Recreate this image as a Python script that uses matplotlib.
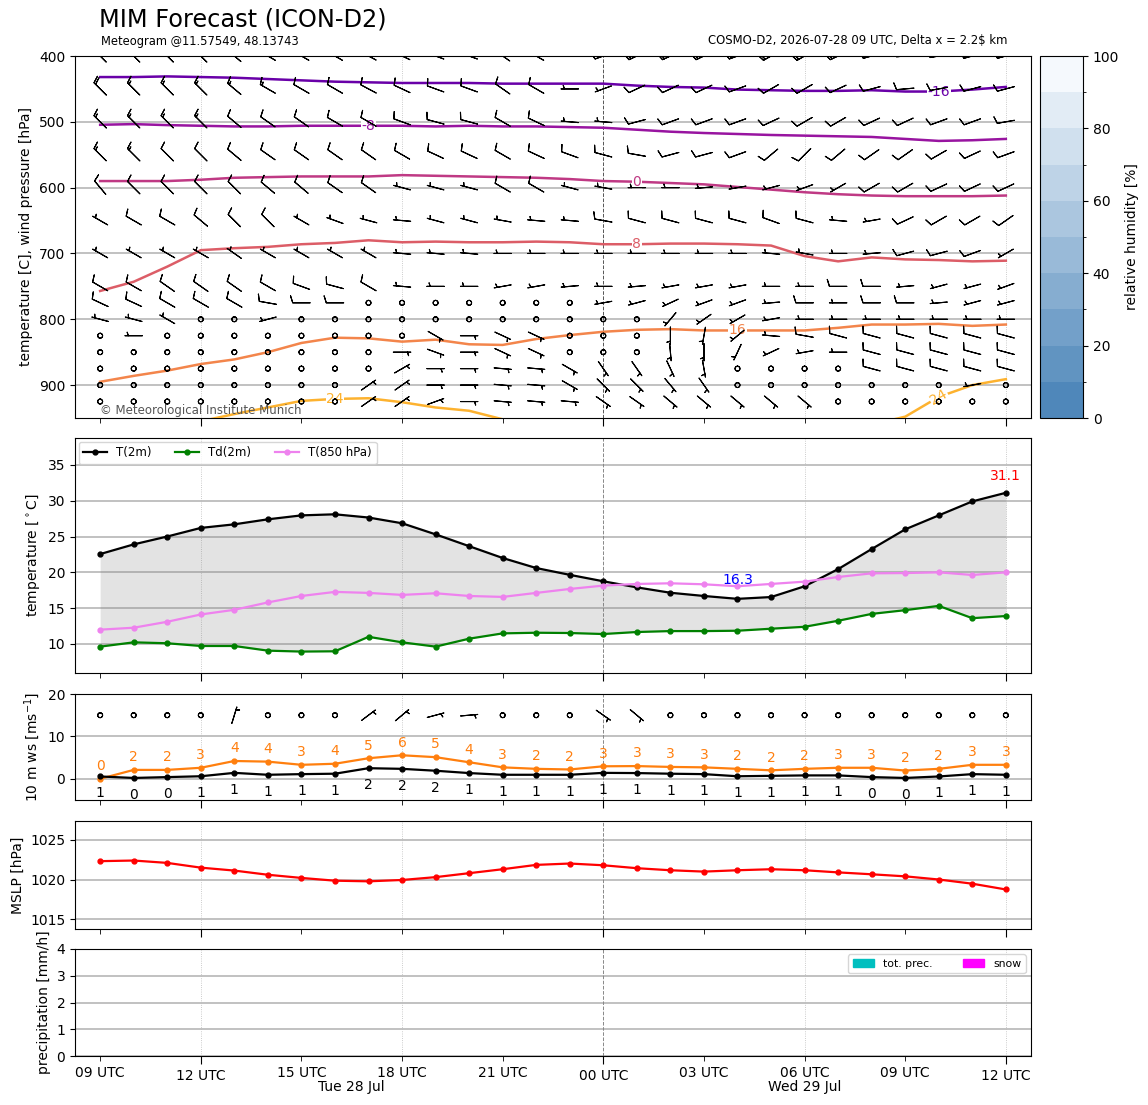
import numpy as np
import pandas as pd
import matplotlib
matplotlib.use("Agg")
import matplotlib.pyplot as plt
import matplotlib.dates as mdates
import matplotlib.transforms as mtransforms
from matplotlib.colors import LinearSegmentedColormap, BoundaryNorm
from matplotlib.cm import ScalarMappable
from matplotlib.patches import Patch

# ---------------- data ----------------
times = pd.date_range("2026-07-28 09:00", periods=28, freq="h")

# isotherm pressure levels [hPa] per hour
iso_levels = [-16, -8, 0, 8, 16, 24]
p_m16 = [432, 432, 431, 432, 433, 435, 437, 439, 440, 441, 441, 441, 442, 442,
         442, 442, 445, 447, 448, 451, 452, 453, 453, 452, 454, 454, 451, 447]
p_m8 = [504.5, 503.5, 505, 506, 507, 507, 506, 506, 506, 506, 507, 506, 507, 507,
        508, 509, 512, 515, 517, 518.5, 520, 521, 522, 523, 526, 529, 528, 526]
p_0 = [590, 590, 590, 588, 585, 584, 583, 583, 583, 581, 582, 583, 584, 585,
       587, 590, 591, 593, 595, 599, 603, 607, 610, 612, 613, 613, 613, 612]
p_8 = [757, 743, 720, 695, 692, 690, 686, 684, 680, 683, 682, 683, 683, 682,
       683, 686, 686, 685, 685, 686, 688, 704, 712, 706, 709, 710, 712, 711]
p_16 = [895, 886, 878, 868, 861, 850, 836, 828, 829, 834, 831, 838, 839, 830,
        824, 819, 816, 815, 817, 817, 817, 817, 813, 808, 808, 807, 810, 808]
p_24 = [np.nan, np.nan, np.nan, 955, 944, 934, 924, 921, 920, 926, 934, 939, 952, np.nan,
        np.nan, np.nan, np.nan, np.nan, np.nan, np.nan, np.nan, np.nan, np.nan, 960, 948, 918, 900, 891]
iso_label_idx = [25, 8, 16, 16, 19, 7]

# wind barbs aloft: direction [deg] and speed [kt]
plev = [400, 450, 500, 550, 600, 650, 700, 750, 775, 800, 825, 850, 875, 900, 925]
d400 = [315, 315, 315, 315, 310, 300, 300, 300, 298, 295, 290, 290, 305, 300, 270, 250, 245, 245, 245, 250, 240, 240, 245, 255, 265, 260, 255, 255]
s400 = [20, 20, 20, 20, 20, 15, 15, 15, 15, 15, 15, 15, 15, 15, 10, 10, 15, 15, 15, 15, 15, 15, 15, 15, 15, 15, 15, 15]
d450 = [315, 315, 315, 315, 310, 300, 300, 300, 298, 295, 290, 290, 305, 300, 270, 250, 245, 245, 245, 250, 240, 240, 245, 255, 265, 260, 255, 255]
s450 = [20, 15, 15, 15, 15, 15, 10, 10, 10, 10, 10, 10, 10, 10, 5, 5, 10, 10, 10, 10, 10, 10, 10, 10, 10, 10, 10, 10]
d500 = [315, 315, 315, 315, 310, 305, 305, 300, 300, 290, 285, 285, 300, 295, 275, 275, 255, 250, 250, 250, 245, 240, 240, 245, 245, 250, 250, 260]
s500 = [15, 15, 15, 15, 10, 10, 10, 10, 10, 10, 10, 10, 10, 10, 5, 5, 10, 10, 10, 10, 10, 10, 10, 10, 10, 10, 10, 10]
d550 = [315, 315, 315, 315, 310, 305, 305, 305, 305, 300, 295, 295, 300, 295, 290, 285, 280, 255, 255, 250, 230, 225, 230, 235, 235, 240, 245, 250]
s550 = [15, 15, 10, 10, 10, 10, 10, 10, 10, 10, 10, 10, 10, 10, 10, 10, 10, 10, 10, 10, 10, 10, 10, 10, 10, 10, 10, 10]
d600 = [320, 315, 315, 315, 315, 310, 310, 305, 305, 285, 285, 285, 300, 300, 285, 280, 270, 270, 265, 260, 255, 250, 240, 240, 240, 245, 245, 245]
s600 = [10, 10, 10, 10, 10, 10, 10, 10, 10, 5, 5, 5, 10, 10, 5, 5, 5, 5, 5, 5, 5, 5, 5, 10, 10, 10, 10, 10]
d650 = [300, 300, 300, 310, 315, 315, 300, 290, 285, 275, 285, 285, 280, 275, 275, 280, 285, 285, 285, 285, 290, 285, 275, 260, 245, 240, 240, 235]
s650 = [5, 10, 10, 10, 10, 10, 5, 5, 5, 5, 5, 5, 5, 5, 5, 10, 10, 10, 10, 10, 10, 10, 5, 5, 10, 10, 10, 10]
d700 = [300, 300, 300, 300, 305, 300, 300, 300, 300, 275, 275, 275, 270, 270, 270, 270, 270, 270, 270, 270, 275, 280, 270, 265, 255, 255, 250, 240]
s700 = [5, 5, 5, 5, 5, 5, 5, 5, 5, 5, 5, 5, 5, 5, 5, 5, 5, 5, 5, 5, 5, 5, 5, 5, 10, 10, 10, 5]
d750 = [300, 300, 305, 305, 305, 300, 290, 285, 300, 275, 270, 270, 260, 260, 265, 270, 265, 260, 260, 260, 270, 270, 270, 270, 265, 255, 255, 250]
s750 = [10, 10, 10, 10, 10, 10, 10, 10, 10, 5, 5, 5, 5, 5, 5, 5, 5, 5, 5, 5, 5, 5, 10, 10, 5, 5, 5, 5]
d775 = [295, 295, 300, 300, 300, 280, 270, 270, 270, 270, 270, 270, 270, 270, 270, 260, 255, 245, 250, 250, 265, 270, 270, 270, 270, 265, 255, 255]
s775 = [10, 10, 10, 10, 10, 10, 10, 10, 0, 0, 0, 0, 0, 0, 0, 5, 5, 5, 5, 5, 5, 10, 5, 10, 10, 5, 5, 5]
d800 = [285, 285, 300, 270, 270, 255, 270, 270, 270, 270, 270, 270, 270, 270, 270, 270, 270, 220, 235, 240, 260, 270, 270, 270, 270, 270, 270, 270]
s800 = [5, 5, 5, 0, 0, 5, 0, 0, 0, 0, 0, 0, 0, 0, 0, 0, 0, 5, 5, 5, 5, 5, 5, 5, 5, 5, 5, 5]
d825 = [270, 270, 270, 270, 270, 270, 270, 270, 270, 270, 120, 90, 115, 115, 180, 180, 180, 180, 190, 230, 275, 280, 285, 285, 285, 285, 285, 285]
s825 = [0, 5, 0, 0, 0, 0, 0, 0, 0, 0, 5, 5, 5, 5, 0, 0, 0, 5, 5, 5, 5, 10, 10, 10, 10, 10, 10, 10]
d850 = [270, 270, 270, 270, 270, 270, 270, 270, 270, 90, 110, 90, 115, 115, 180, 180, 180, 175, 180, 205, 245, 260, 270, 285, 285, 285, 285, 285]
s850 = [0, 0, 0, 0, 0, 0, 0, 0, 0, 5, 5, 5, 5, 5, 0, 0, 0, 5, 5, 5, 5, 5, 5, 10, 10, 10, 10, 10]
d875 = [270, 270, 270, 270, 270, 270, 270, 270, 270, 60, 90, 90, 95, 95, 120, 145, 145, 155, 170, 270, 270, 270, 270, 285, 285, 285, 285, 285]
s875 = [0, 0, 0, 0, 0, 0, 0, 0, 0, 5, 5, 5, 5, 5, 5, 5, 5, 5, 5, 0, 0, 0, 0, 10, 10, 10, 10, 10]
d900 = [270, 270, 270, 270, 270, 270, 270, 270, 55, 55, 90, 90, 95, 95, 120, 135, 135, 140, 145, 270, 270, 270, 270, 270, 270, 270, 260, 270]
s900 = [0, 0, 0, 0, 0, 0, 0, 0, 5, 5, 5, 5, 5, 5, 5, 5, 5, 5, 5, 0, 0, 0, 0, 0, 0, 0, 5, 0]
d925 = [270, 270, 270, 270, 270, 270, 270, 270, 55, 55, 70, 90, 95, 95, 95, 125, 125, 130, 130, 130, 130, 130, 270, 270, 270, 270, 270, 270]
s925 = [0, 0, 0, 0, 0, 0, 0, 0, 5, 5, 5, 5, 5, 5, 5, 5, 5, 5, 5, 5, 5, 5, 0, 0, 0, 0, 0, 0]

# 2 m values
t2m = [22.55, 23.9, 25.0, 26.2, 26.7, 27.4, 27.95, 28.1, 27.65, 26.85, 25.3, 23.65, 22.0, 20.6,
       19.65, 18.75, 17.9, 17.15, 16.7, 16.3, 16.55, 18.05, 20.45, 23.25, 26.0, 27.95, 29.9, 31.1]
td2m = [9.63, 10.23, 10.1, 9.72, 9.72, 9.07, 8.94, 8.98, 11.0, 10.23, 9.63, 10.74, 11.48, 11.57,
        11.53, 11.39, 11.67, 11.8, 11.8, 11.85, 12.13, 12.4, 13.24, 14.2, 14.72, 15.32, 13.6, 13.9]
t850 = [12.0, 12.27, 13.1, 14.12, 14.77, 15.8, 16.7, 17.27, 17.13, 16.85, 17.08, 16.7, 16.57, 17.13,
        17.68, 18.15, 18.38, 18.47, 18.33, 18.06, 18.38, 18.7, 19.35, 19.86, 19.9, 20.0, 19.63, 20.0]

# 10 m wind [m/s] and direction [deg]
ws10 = [0.55, 0.2, 0.4, 0.6, 1.4, 0.95, 1.1, 1.2, 2.5, 2.35, 1.9, 1.35, 0.95, 0.95,
        0.95, 1.4, 1.35, 1.2, 1.1, 0.6, 0.7, 0.8, 0.8, 0.4, 0.2, 0.55, 1.1, 0.95]
gust10 = [0.0, 2.1, 2.1, 2.6, 4.2, 4.05, 3.3, 3.55, 4.85, 5.55, 5.1, 3.9, 2.7, 2.35,
          2.2, 2.95, 3.0, 2.8, 2.7, 2.35, 2.0, 2.35, 2.6, 2.6, 1.95, 2.35, 3.3, 3.3]
dir10 = [270, 270, 300, 330, 17, 30, 40, 45, 53, 50, 75, 85, 90, 100,
         110, 125, 130, 130, 130, 140, 150, 150, 160, 160, 160, 200, 220, 230]

mslp = [1022.32, 1022.4, 1022.1, 1021.5, 1021.13, 1020.6, 1020.2, 1019.85, 1019.77, 1019.94,
        1020.3, 1020.8, 1021.3, 1021.85, 1022.02, 1021.8, 1021.43, 1021.17, 1021.0, 1021.17,
        1021.3, 1021.17, 1020.9, 1020.66, 1020.4, 1020.0, 1019.47, 1018.74]

prec_tot = [0, 0, 0, 0, 0, 0, 0, 0, 0, 0, 0, 0, 0, 0, 0, 0, 0, 0, 0, 0, 0, 0, 0, 0, 0, 0, 0, 0]
prec_snow = [0, 0, 0, 0, 0, 0, 0, 0, 0, 0, 0, 0, 0, 0, 0, 0, 0, 0, 0, 0, 0, 0, 0, 0, 0, 0, 0, 0]

rh_levels = [0, 10, 20, 30, 40, 50, 60, 70, 80, 90, 100]
day_labels = ["Tue 28 Jul", "Wed 29 Jul"]
day_label_hours = [7.5, 21.0]

# ---------------- figure ----------------
x = mdates.date2num(times.to_pydatetime())
hr = 1.0 / 24.0
W, H = 1148, 1105
fig = plt.figure(figsize=(W / 100, H / 100), dpi=100)


def rect(l, t, r, b):
    return [l / W, 1 - b / H, (r - l) / W, (b - t) / H]


ax1 = fig.add_axes(rect(75, 56, 1031, 418))
ax2 = fig.add_axes(rect(75, 438, 1031, 673))
ax3 = fig.add_axes(rect(75, 694, 1031, 800))
ax4 = fig.add_axes(rect(75, 821, 1031, 929))
ax5 = fig.add_axes(rect(75, 949, 1031, 1056))
cax = fig.add_axes(rect(1040, 56, 1083, 418))
axes = [ax1, ax2, ax3, ax4, ax5]

gridc = "#b0b0b0"
for i, ax in enumerate(axes):
    ax.set_xlim(x[0] - 0.75 * hr, x[-1] + 0.75 * hr)
    ax.xaxis.set_major_locator(mdates.HourLocator(byhour=[0, 12]))
    ax.xaxis.set_minor_locator(mdates.HourLocator(byhour=[3, 6, 9, 15, 18, 21]))
    ax.xaxis.set_major_formatter(mdates.DateFormatter("%H UTC"))
    ax.xaxis.set_minor_formatter(mdates.DateFormatter("%H UTC"))
    ax.tick_params(axis="x", which="major", length=5.7)
    ax.tick_params(axis="x", which="minor", length=3.5)
    if ax is not ax5:
        ax.tick_params(axis="x", which="both", labelbottom=False)
    ax.yaxis.grid(True, color=gridc, lw=1.1)
    ax.set_axisbelow(True)
    for k in [3, 9, 21, 27]:
        ax.axvline(x[k], color="#bbbbbb", lw=0.6, ls=":", zorder=1)
    ax.axvline(x[15], color="#555555" if ax is ax1 else "#888888", lw=0.7, ls="--", zorder=1)

barb_kw = dict(length=5.0, pivot="middle", lw=0.8, sizes=dict(emptybarb=0.14))

# ---- panel 1: isotherms + barbs ----
iso_p = [p_m16, p_m8, p_0, p_8, p_16, p_24]
for T, p, li in zip(iso_levels, iso_p, iso_label_idx):
    col = plt.cm.plasma(0.45 + 0.0159 * T)
    ax1.plot(x, p, color=col, lw=1.8, zorder=3)
    lab = "%d" % T
    ax1.text(x[li], p[li], lab, color=col, fontsize=10, ha="center", va="center",
             bbox=dict(fc="white", ec="none", pad=0.5), zorder=4)
# second label for 24
ax1.text(x[25], p_24[25], "24", color=plt.cm.plasma(0.45 + 0.0159 * 24), fontsize=10,
         ha="center", va="center", rotation=30,
         bbox=dict(fc="white", ec="none", pad=0.5), zorder=4)

D = np.array([d400, d450, d500, d550, d600, d650, d700, d750, d775, d800, d825, d850, d875, d900, d925], float)
S = np.array([s400, s450, s500, s550, s600, s650, s700, s750, s775, s800, s825, s850, s875, s900, s925], float)
U = -S * np.sin(np.radians(D))
V = -S * np.cos(np.radians(D))
XX, PP = np.meshgrid(x, plev)
ax1.barbs(XX, PP, U, V, zorder=5, **barb_kw)
ax1.set_ylim(950, 400)
ax1.set_yticks([400, 500, 600, 700, 800, 900])
ax1.set_ylabel("temperature [C], wind pressure [hPa]")
ax1.text(0.026, 0.022, "\u00a9 Meteorological Institute Munich", transform=ax1.transAxes,
         fontsize=8.5, color="#555555", va="center", zorder=6)

# colorbar
rh_cmap = LinearSegmentedColormap.from_list("rh", ["#4f87ba", "#f5f9fd"])
norm = BoundaryNorm(rh_levels, rh_cmap.N)
cb = fig.colorbar(ScalarMappable(norm=norm, cmap=rh_cmap), cax=cax, ticks=[0, 20, 40, 60, 80, 100])
cb.set_label("relative humidity [%]")
cb.outline.set_linewidth(0.8)

# ---- panel 2: temperatures ----
ax2.fill_between(x, td2m, t2m, color="gray", alpha=0.22, lw=0)
ax2.plot(x, t2m, color="black", marker="o", ms=3.5, lw=1.6, label="T(2m)")
ax2.plot(x, td2m, color="green", marker="o", ms=3.5, lw=1.6, label="Td(2m)")
ax2.plot(x, t850, color="violet", marker="o", ms=3.5, lw=1.6, label="T(850 hPa)")
imax = int(np.argmax(t2m))
imin = int(np.argmin(t2m))
ax2.text(x[imax], t2m[imax] + 2.3, "%.1f" % t2m[imax], color="red", fontsize=10, ha="center", va="center")
ax2.text(x[imin], t2m[imin] + 2.6, "%.1f" % t2m[imin], color="blue", fontsize=10, ha="center", va="center")
ax2.set_ylim(5.95, 38.75)
ax2.set_yticks([10, 15, 20, 25, 30, 35])
ax2.set_ylabel("temperature [$^\\circ$C]")
ax2.legend(loc="upper left", ncol=3, fontsize=8.5, borderaxespad=0.3, columnspacing=2.0)

# ---- panel 3: 10 m wind ----
ax3.plot(x, gust10, color="tab:orange", marker="o", ms=3.5, lw=1.6)
ax3.plot(x, ws10, color="black", marker="o", ms=3.5, lw=1.6)
for xi, g, w in zip(x, gust10, ws10):
    ax3.text(xi, g + 3.0, "%.0f" % g, color="tab:orange", fontsize=10, ha="center", va="center")
    ax3.text(xi, w - 4.0, "%.0f" % w, color="black", fontsize=10, ha="center", va="center")
kt = np.array(ws10) * 1.944
u10 = -kt * np.sin(np.radians(dir10))
v10 = -kt * np.cos(np.radians(dir10))
ax3.barbs(x, np.full(len(x), 15.0), u10, v10, **barb_kw)
ax3.set_ylim(-5, 20)
ax3.set_yticks([0, 10, 20])
ax3.set_ylabel("10 m ws [ms$^{-1}$]")

# ---- panel 4: MSLP ----
ax4.plot(x, mslp, color="red", marker="o", ms=3.5, lw=1.6)
ax4.set_ylim(min(mslp) - 5, max(mslp) + 5)
ax4.set_yticks([1015, 1020, 1025])
ax4.set_ylabel("MSLP [hPa]")

# ---- panel 5: precipitation ----
ax5.bar(x, prec_tot, width=0.8 * hr, color="c")
ax5.bar(x, prec_snow, width=0.8 * hr, color="magenta")
ax5.set_ylim(0, 4)
ax5.set_yticks([0, 1, 2, 3, 4])
ax5.set_ylabel("precipitation [mm/h]")
ax5.legend(handles=[Patch(color="c", label="tot. prec."), Patch(color="magenta", label="snow")],
           loc="upper right", ncol=2, fontsize=7.8, columnspacing=2.8)
trans = mtransforms.blended_transform_factory(ax5.transData, ax5.transAxes)
for lab, h in zip(day_labels, day_label_hours):
    ax5.text(x[0] + h * hr, -0.29, lab, transform=trans, ha="center", va="center", fontsize=10)

# ---- titles ----
fig.text(99 / W, 1 - 20 / H, "MIM Forecast (ICON-D2)", fontsize=17.3, va="center")
fig.text(101 / W, 1 - 41 / H, "Meteogram @11.57549, 48.13743", fontsize=8.3, va="center")
fig.text(1008 / W, 1 - 41 / H, "COSMO-D2, 2026-07-28 09 UTC, Delta x = 2.2$ km", fontsize=8.4,
         va="center", ha="right")

fig.savefig("out.png", dpi=100)
